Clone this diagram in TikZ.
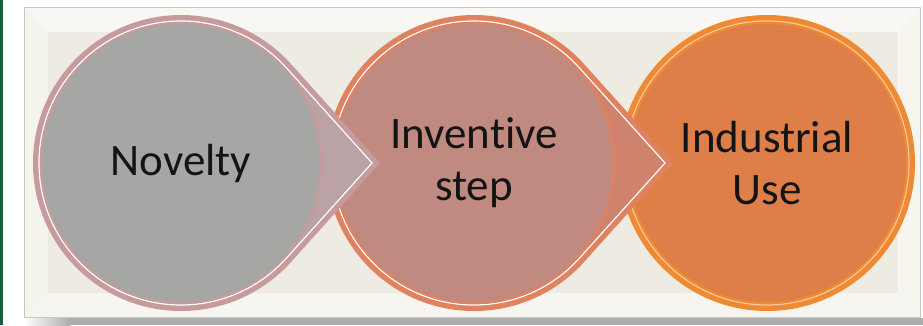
\documentclass[tikz,border=0pt]{standalone}
\usepackage{fontspec}
\setmainfont{Carlito}[Ligatures=NoCommon]
\usetikzlibrary{positioning}

\definecolor{framegreen}{HTML}{1E5B3A}
\definecolor{panelbeige}{HTML}{EEECE2}
\definecolor{novring}{HTML}{C79A9C}
\definecolor{novpoint}{HTML}{BBA2A4}
\definecolor{novfill}{HTML}{A6A7A5}
\definecolor{invring}{HTML}{E0825F}
\definecolor{invpoint}{HTML}{D0836C}
\definecolor{invfill}{HTML}{C08A80}
\definecolor{indring}{HTML}{F08A32}
\definecolor{indfill}{HTML}{DE7E49}

\begin{document}
\begin{tikzpicture}[x=0.75pt,y=-0.75pt]
\tikzstyle{every node}=[font=\fontsize{33.75}{39}\selectfont]
\tikzstyle{stage}=[circle,minimum size=210pt,inner sep=0pt,align=center,text=black!92,line width=1.5pt]
\tikzstyle{gloss}=[draw=white,line width=0.9pt]
\useasboundingbox (0,0) rectangle (923,325);

% panel with bevel and shadow
\fill[white] (0,0) rectangle (923,325);
\fill[framegreen] (0,0) rectangle (3,325);
\shade[left color=white,right color=black!32] (24,318) rectangle (70,325);
\fill[black!32] (70,318) rectangle (923,325);
\fill[white!60!panelbeige] (24,7) -- (920,7) -- (898,32) -- (48,32) -- cycle;
\fill[white!45!panelbeige] (24,317) -- (920,317) -- (898,293) -- (48,293) -- cycle;
\fill[white!35!panelbeige] (24,7) -- (48,32) -- (48,293) -- (24,317) -- cycle;
\fill[white!45!panelbeige] (920,7) -- (898,32) -- (898,293) -- (920,317) -- cycle;
\fill[panelbeige] (48,32) rectangle (898,293);
\draw[black!22] (24,7) rectangle (920,317);

\coordinate (c1) at (181,163);
\coordinate (c2) at (474,163);
\coordinate (c3) at (767,163);

% last stage first, each pointer lies over the next circle
\fill[indring] (c3) circle (148);
\draw[gloss,draw=white!55!indring] (c3) circle (142);
\node[stage,fill=indfill,draw=indring] (ind) at (c3) {Industrial\\Use};

\fill[invring] (c2) ++(42:148) arc[start angle=42,end angle=318,radius=148] -- ([xshift=149.25pt]c2) -- cycle;
\path[gloss,fill=invpoint] (c2) ++(42:142) arc[start angle=42,end angle=318,radius=142] -- ([xshift=143.25pt]c2) -- cycle;
\node[stage,fill=invfill,draw=invring] (inv) at (c2) {Inventive\\step};

\fill[novring] (c1) ++(42:148) arc[start angle=42,end angle=318,radius=148] -- ([xshift=149.25pt]c1) -- cycle;
\path[gloss,fill=novpoint] (c1) ++(42:142) arc[start angle=42,end angle=318,radius=142] -- ([xshift=143.25pt]c1) -- cycle;
\node[stage,fill=novfill,draw=novring] (nov) at (c1) {Novelty};
\end{tikzpicture}
\end{document}
